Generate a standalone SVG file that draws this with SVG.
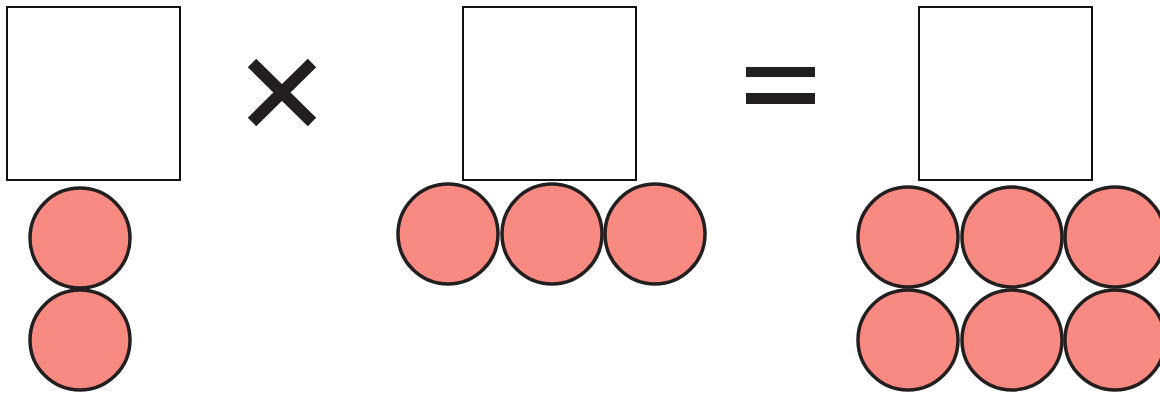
<svg xmlns="http://www.w3.org/2000/svg" width="1160" height="394" viewBox="0 0 1160 394">
<style>
.box{fill:#fff;stroke:#111;stroke-width:2}
.c{fill:#f98a82;stroke:#231f20;stroke-width:3.5}
.op{stroke:#231f20;stroke-width:12;fill:none}
</style>
<rect width="1160" height="394" fill="#fff"/>
<g id="factor1">
<rect class="box" x="7" y="7" width="173" height="173"/>
<circle class="c" cx="80" cy="238" r="50"/>
<circle class="c" cx="80" cy="340" r="50"/>
</g>
<g id="times">
<path class="op" d="M252 63L312 122M312 63L252 122"/>
</g>
<g id="factor2">
<rect class="box" x="463" y="7" width="173" height="173"/>
<circle class="c" cx="448" cy="234" r="50"/>
<circle class="c" cx="552" cy="234" r="50"/>
<circle class="c" cx="655" cy="234" r="50"/>
</g>
<g id="equals">
<rect x="746" y="67" width="69" height="10" fill="#231f20"/>
<rect x="746" y="93" width="69" height="11" fill="#231f20"/>
</g>
<g id="product">
<rect class="box" x="919" y="7" width="173" height="173"/>
<circle class="c" cx="908" cy="237" r="50"/>
<circle class="c" cx="1012" cy="237" r="50"/>
<circle class="c" cx="1115" cy="237" r="50"/>
<circle class="c" cx="908" cy="340" r="50"/>
<circle class="c" cx="1012" cy="340" r="50"/>
<circle class="c" cx="1115" cy="340" r="50"/>
</g>
<g id="connectors"/>
</svg>
